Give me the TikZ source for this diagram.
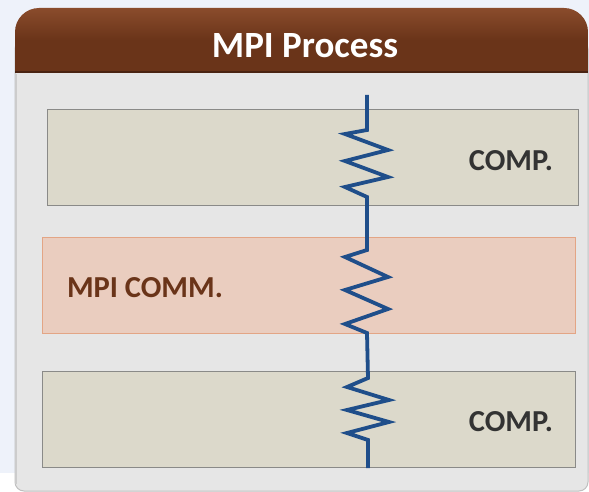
\documentclass[tikz,border=0pt]{standalone}
\usepackage{fontspec}
\setmainfont{Carlito}
\definecolor{bgblue}{HTML}{EEF2FA}
\definecolor{panelgray}{HTML}{E6E6E6}
\definecolor{hdrbrown}{HTML}{6A3419}
\definecolor{hdrtop}{HTML}{8A4C2C}
\definecolor{compfill}{HTML}{DCD9CB}
\definecolor{compline}{HTML}{8A8A88}
\definecolor{commfill}{HTML}{EACDBF}
\definecolor{commline}{HTML}{E3A585}
\definecolor{wireblue}{HTML}{1F4E8A}
\definecolor{comptext}{HTML}{333333}
\definecolor{commtext}{HTML}{6A3419}
\tikzset{
  stagebox/.style={draw=compline, fill=compfill, line width=1.4pt, minimum width=531pt, minimum height=96pt, inner sep=0pt, anchor=north west},
  commbox/.style={draw=commline, fill=commfill, line width=1.2pt, minimum width=533pt, minimum height=96pt, inner sep=0pt, anchor=north west},
  lbl/.style={font=\bfseries\fontsize{30.5}{32}\selectfont, inner sep=0pt},
  wire/.style={draw=wireblue, line width=3.8pt, line join=miter, line cap=butt},
}
\begin{document}
\begin{tikzpicture}[x=1pt,y=-1pt]
\useasboundingbox (0,0) rectangle (589,492);
\fill[bgblue] (0,0) rectangle (589,492);
\fill[white] (0,473) rectangle (589,492);
% panel body
\path[fill=panelgray, draw=black!25, line width=1pt, rounded corners=9] (15,40) -- (15,491) -- (588,491) -- (588,40) -- cycle;
\fill[black!20] (15,74) rectangle (17,484);
% header
\shade[top color=hdrtop, bottom color=hdrbrown, middle color=hdrbrown] (15,72) [rounded corners=24]-- (15,8) -- (588,8) [sharp corners]-- (588,72) -- cycle;
\fill[hdrbrown!70!black] (15,71) rectangle (588,73);
\node[font=\bfseries\fontsize{37}{39}\selectfont, text=white, inner sep=0pt] (title) at (305,46) {MPI Process};
% boxes
\node[stagebox] (comp1) at (47,109) {};
\node[commbox] (comm) at (42,237) {};
\node[stagebox, minimum width=533pt] (comp2) at (42,371) {};
% labels
\node[lbl, text=comptext] (l1) at (511,161) {COMP.};
\node[lbl, text=commtext] (l2) at (145,288) {MPI COMM.};
\node[lbl, text=comptext] (l3) at (511,422) {COMP.};
% wire
\coordinate (w0) at (367,95);
\coordinate (w1) at (367,130);
\coordinate (w2) at (367,197);
\coordinate (w3) at (367,250);
\coordinate (w4) at (367,333);
\coordinate (w5) at (368,378);
\coordinate (w6) at (368,440);
\coordinate (w7) at (368,468);
\draw[wire] (w0) -- (w1) -- (345,134) -- (388,150) -- (345,161) -- (388,177) -- (345,187) -- (w2) -- (w3)
  -- (345,257) -- (388,277) -- (345,290) -- (388,309) -- (345,324) -- (w4) -- (w5)
  -- (347,387) -- (389,400) -- (347,410) -- (389,422) -- (347,433) -- (w6) -- (w7);
\end{tikzpicture}
\end{document}
